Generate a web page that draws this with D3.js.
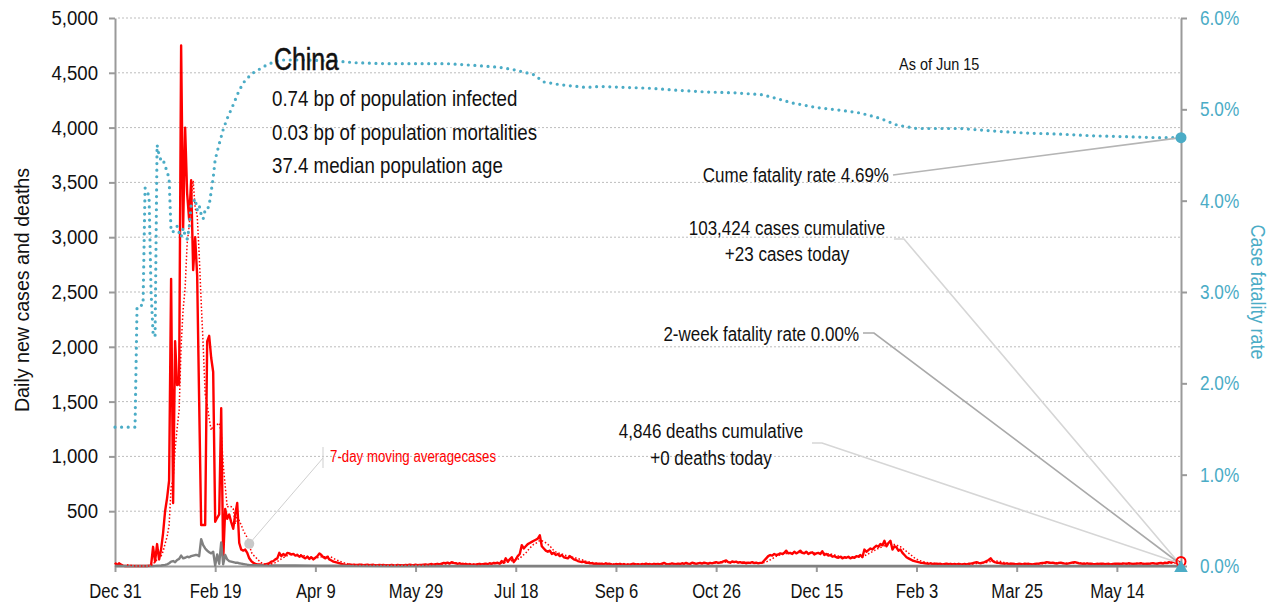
<!DOCTYPE html>
<html>
<head>
<meta charset="utf-8">
<script src="https://cdn.jsdelivr.net/npm/d3@7"></script>
<style>
  body { margin: 0; background: #fff; }
  svg { display: block; font-family: "Liberation Sans", Arial, sans-serif; }
</style>
</head>
<body>
<script>
// daily new cases, one value per day starting Dec 31 2019
const cases = [
  30,8,25,12,3,0,0,0,0,0,
  0,0,0,0,0,0,0,3,5,175,
  40,200,60,150,300,500,620,780,2620,575,
  2050,1650,1660,4750,3080,4000,3400,3160,3520,2700,
  3000,2650,1500,374,374,374,2050,2100,1900,1770,
  404,440,470,1440,60,520,430,470,400,340,
  470,575,210,150,140,150,120,70,45,30,
  20,15,15,12,10,15,20,25,40,45,
  60,70,120,90,110,95,120,115,105,110,
  95,100,85,95,80,70,85,65,80,60,
  75,90,115,100,80,70,85,60,50,40,
  35,30,25,20,15,12,10,14,8,12,
  10,9,13,11,8,10,12,7,9,11,
  6,8,10,7,9,6,8,5,10,7,
  6,9,8,7,6,10,8,12,9,7,
  11,8,10,9,12,15,10,14,18,12,
  16,20,15,22,28,25,30,22,35,28,
  25,20,24,18,15,20,12,18,10,14,
  12,16,20,15,18,22,16,25,20,28,
  25,30,20,45,30,70,40,60,80,35,
  60,90,110,190,160,180,200,210,220,230,
  240,250,280,180,160,140,130,140,110,120,
  100,110,90,100,80,75,70,90,75,60,
  55,45,40,35,40,30,30,25,25,20,
  22,20,18,22,15,25,18,20,15,12,
  18,15,20,12,18,10,15,12,18,20,
  14,16,12,18,15,22,14,18,12,20,
  16,18,15,22,28,20,15,18,24,20,
  16,22,18,25,20,28,22,18,30,25,
  20,24,28,22,30,26,20,28,24,30,
  35,28,32,38,45,50,35,30,42,35,
  40,30,35,28,32,25,30,28,35,26,
  30,24,28,30,50,70,90,100,95,110,
  100,105,115,110,120,140,115,120,110,130,
  115,125,140,120,115,130,110,120,125,105,
  115,120,110,135,100,110,95,100,85,90,
  80,75,85,70,80,75,85,70,80,75,
  90,85,100,80,150,130,145,160,150,170,
  185,175,200,190,230,180,210,230,150,180,
  170,140,150,120,100,80,70,60,50,45,
  40,35,30,28,25,22,20,24,18,20,
  22,18,20,15,18,22,16,20,14,18,
  15,20,16,14,18,15,20,22,25,30,
  35,28,25,30,35,45,55,70,45,35,
  30,28,25,22,20,24,18,20,22,18,
  16,20,18,15,22,18,20,16,14,18,
  20,22,25,28,30,35,32,28,30,25,
  22,28,30,25,22,20,24,28,32,35,
  30,25,22,20,18,24,20,22,18,16,
  20,18,20,22,16,18,20,15,18,20,
  22,20,18,24,22,20,25,22,18,20,
  24,22,25,20,18,22,20,24,26,22,
  20,25,28,22,30,26,35,30,40,32,
  45,38,23
];

// daily deaths as [day, value]
const deaths = [
  [0,0],[19,0],[20,1],[21,2],[22,3],[23,5],[24,8],[25,10],[26,15],[27,25],
  [28,40],[29,45],[30,35],[31,55],[32,65],[33,95],[34,70],[35,75],[36,85],[37,80],
  [38,90],[39,95],[40,100],[41,100],[42,90],[43,245],[44,190],[45,160],[46,140],[47,125],
  [48,115],[49,130],[50,5],[51,105],[52,20],[53,215],[54,15],[55,100],[56,60],[57,45],
  [58,40],[59,35],[60,30],[61,30],[62,25],[63,22],[64,18],[65,15],[66,12],[67,10],
  [70,8],[75,6],[80,5],[90,4],[100,3],[110,2],[120,1],[140,0],[532,0]
];

// cumulative case fatality rate (%) as [day, value]
const cfr = [
  [0,1.52],[10,1.52],[11,2.84],[14,2.86],[15,4.14],[16,4.10],[17,4.05],[18,3.0],[19,2.55],[20,2.51],
  [21,4.61],[22,4.50],[23,4.44],[24,4.45],[25,4.38],[26,4.32],[27,4.24],[28,3.66],[29,3.66],[30,3.68],
  [31,3.72],[32,3.65],[33,3.60],[34,3.70],[35,3.62],[36,3.58],[37,3.70],[38,3.95],[39,3.98],[40,4.02],
  [41,3.90],[42,3.95],[43,3.85],[44,3.80],[45,3.90],[46,3.90],[47,3.95],[48,4.10],[49,4.25],[50,4.45],
  [52,4.62],[54,4.78],[56,4.90],[59,5.05],[62,5.21],[65,5.32],[69,5.40],[76,5.49],[82,5.54],[95,5.54],
  [109,5.53],[120,5.51],[135,5.50],[166,5.50],[180,5.48],[192,5.46],[200,5.43],[209,5.38],[214,5.30],[222,5.27],
  [235,5.24],[242,5.25],[268,5.23],[280,5.21],[295,5.19],[310,5.18],[323,5.16],[330,5.12],[338,5.07],[350,5.02],
  [362,4.99],[372,4.96],[382,4.90],[390,4.83],[400,4.79],[422,4.79],[440,4.76],[455,4.74],[470,4.73],[488,4.71],
  [505,4.70],[521,4.69],[532,4.69]
];

const leftTicks = [500,1000,1500,2000,2500,3000,3500,4000,4500,5000];
const rightTicks = [0,1,2,3,4,5,6];
const dateTicks = [0,50,100,150,200,250,300,350,400,450,500];

const infoLines = [
  "0.74 bp of population infected",
  "0.03 bp of population mortalities",
  "37.4 median population age"
];

const W = 1274, H = 609;
const plotL = 115, plotR = 1181, plotT = 18, plotB = 566;
const teal = "#4bacc6";
const axisGray = "#9a9a9a";

const start = new Date(2019, 11, 31);
const day = d => d3.timeDay.offset(start, d);
const lastDay = cases.length - 1;

const x = d3.scaleTime().domain([start, day(lastDay)]).range([plotL, plotR]);
const y = d3.scaleLinear().domain([0, 5000]).range([plotB, plotT]);
const yR = d3.scaleLinear().domain([0, 6]).range([plotB, plotT]);

const svg = d3.select("body").append("svg")
  .attr("width", W)
  .attr("height", H);

// grid
svg.append("g").selectAll("line")
  .data(leftTicks)
  .join("line")
  .attr("x1", plotL + 3).attr("x2", plotR)
  .attr("y1", d => y(d)).attr("y2", d => y(d))
  .attr("stroke", "#bdbdbd")
  .attr("stroke-width", 1)
  .attr("stroke-dasharray", "2,2");

// axes
const styleAxis = (g, color, squeeze) => {
  g.attr("font-family", null).attr("font-size", null);
  g.selectAll(".domain").attr("stroke", axisGray).attr("stroke-width", 2);
  g.selectAll(".tick line").attr("stroke", axisGray).attr("stroke-width", 2);
  g.selectAll(".tick text").attr("fill", color).attr("font-size", 20)
    .attr("data-k", squeeze);
};

svg.append("g")
  .attr("transform", `translate(0,${plotB})`)
  .call(d3.axisBottom(x)
    .tickValues(dateTicks.map(day))
    .tickFormat(d3.timeFormat("%b %-d"))
    .tickSize(6).tickSizeOuter(0).tickPadding(12))
  .call(g => styleAxis(g, "#111", 0.83));

svg.append("g")
  .attr("transform", `translate(${plotL},0)`)
  .call(d3.axisLeft(y)
    .tickValues(leftTicks)
    .tickFormat(d3.format(","))
    .tickSize(6).tickSizeOuter(0).tickPadding(11))
  .call(g => styleAxis(g, "#111", 0.93));

svg.append("g")
  .attr("transform", `translate(${plotR},0)`)
  .call(d3.axisRight(yR)
    .tickValues(rightTicks)
    .tickFormat(d => d.toFixed(1) + "%")
    .tickSize(6).tickSizeOuter(0).tickPadding(13))
  .call(g => styleAxis(g, teal, 0.86));

// axis titles
svg.append("text")
  .attr("transform", "translate(29,290) rotate(-90)")
  .attr("text-anchor", "middle")
  .attr("font-size", 20)
  .attr("fill", "#111")
  .attr("data-k", 0.98)
  .text("Daily new cases and deaths");

svg.append("text")
  .attr("transform", "translate(1251,292) rotate(90)")
  .attr("text-anchor", "middle")
  .attr("font-size", 20)
  .attr("fill", teal)
  .attr("data-k", 0.9)
  .text("Case fatality rate");

// series
const caseLine = d3.line()
  .x((d, i) => x(day(i)))
  .y(d => y(d));

const ma = cases.map((v, i) => i < 6 ? null : d3.mean(cases.slice(i - 6, i + 1)));

svg.append("path")
  .datum(cases)
  .attr("fill", "none")
  .attr("stroke", "#ff0000")
  .attr("stroke-width", 2.4)
  .attr("stroke-linejoin", "round")
  .attr("d", caseLine);

svg.append("path")
  .datum(deaths)
  .attr("fill", "none")
  .attr("stroke", "#808080")
  .attr("stroke-width", 2.4)
  .attr("stroke-linejoin", "round")
  .attr("d", d3.line().x(d => x(day(d[0]))).y(d => y(d[1])));

svg.append("path")
  .datum(ma)
  .attr("fill", "none")
  .attr("stroke", "#ff0000")
  .attr("stroke-width", 1.5)
  .attr("stroke-dasharray", "1.5,2")
  .attr("d", d3.line().defined(d => d != null).x((d, i) => x(day(i))).y(d => y(d)));

svg.append("path")
  .datum(cfr)
  .attr("fill", "none")
  .attr("stroke", teal)
  .attr("stroke-width", 3.2)
  .attr("stroke-linecap", "round")
  .attr("stroke-dasharray", "0,6.6")
  .attr("d", d3.line().x(d => x(day(d[0]))).y(d => yR(d[1])));

// moving average label
const maDay = 67;
const mx = x(day(maDay)), my = y(ma[maDay]);
svg.append("line")
  .attr("x1", 323).attr("y1", 458).attr("x2", mx).attr("y2", my)
  .attr("stroke", "#cfcfcf").attr("stroke-width", 1);
svg.append("line")
  .attr("x1", 323).attr("y1", 447).attr("x2", 323).attr("y2", 468)
  .attr("stroke", "#cfcfcf").attr("stroke-width", 1);
svg.append("circle")
  .attr("cx", mx).attr("cy", my).attr("r", 5)
  .attr("fill", "#c8c8c8");
svg.append("text")
  .attr("x", 330).attr("y", 462)
  .attr("font-size", 16)
  .attr("fill", "#ff0000")
  .attr("data-k", 0.83)
  .text("7-day moving averagecases");

// end markers
const ex = x(day(lastDay));
const cfrEnd = cfr[cfr.length - 1][1];

const leaders = [
  { pts: [[893, 175], [ex, yR(cfrEnd)]], color: "#b5b5b5" },
  { pts: [[894, 239], [904, 239], [ex - 2, plotB - 3]], color: "#d6d6d6" },
  { pts: [[863, 333], [874, 333], [ex - 2, plotB - 3]], color: "#a9a9a9" },
  { pts: [[812, 443], [822, 443], [ex - 2, plotB - 3]], color: "#d6d6d6" }
];
svg.append("g").selectAll("path")
  .data(leaders)
  .join("path")
  .attr("fill", "none")
  .attr("stroke", d => d.color)
  .attr("stroke-width", 1.6)
  .attr("d", d => d3.line()(d.pts));

svg.append("circle")
  .attr("cx", ex).attr("cy", y(cases[lastDay]) - 2).attr("r", 4.5)
  .attr("fill", "none").attr("stroke", "#ff0000").attr("stroke-width", 2);

svg.append("path")
  .attr("transform", `translate(${ex},${yR(0) + 2})`)
  .attr("d", d3.symbol(d3.symbolTriangle, 80)())
  .attr("fill", teal);

svg.append("circle")
  .attr("cx", ex).attr("cy", yR(cfrEnd)).attr("r", 5.5)
  .attr("fill", teal);

// annotation text
const note = (tx, ty, anchor, size, str, k = 0.85) =>
  svg.append("text")
    .attr("x", tx).attr("y", ty)
    .attr("text-anchor", anchor)
    .attr("font-size", size)
    .attr("fill", "#111")
    .attr("data-k", k)
    .text(str);

note(274, 70, "start", 31, "China", 0.8).attr("font-weight", 500).attr("stroke", "#111").attr("stroke-width", 0.5);
infoLines.forEach((s, i) => note(272, 106 + i * 33.5, "start", 22, s));
note(899, 70, "start", 17, "As of Jun 15");
note(889, 182, "end", 20, "Cume fatality rate 4.69%");
note(787, 235, "middle", 20, "103,424 cases cumulative");
note(787, 261, "middle", 20, "+23 cases today");
note(859, 341, "end", 20, "2-week fatality rate 0.00%");
note(711, 438, "middle", 20, "4,846 deaths cumulative");
note(711, 465, "middle", 20, "+0 deaths today");

// condensed look: squeeze glyphs horizontally
svg.selectAll("text").each(function () {
  const k = +this.getAttribute("data-k") || 0.85;
  const w = this.getComputedTextLength();
  this.setAttribute("textLength", w * k);
  this.setAttribute("lengthAdjust", "spacingAndGlyphs");
});
</script>
</body>
</html>
